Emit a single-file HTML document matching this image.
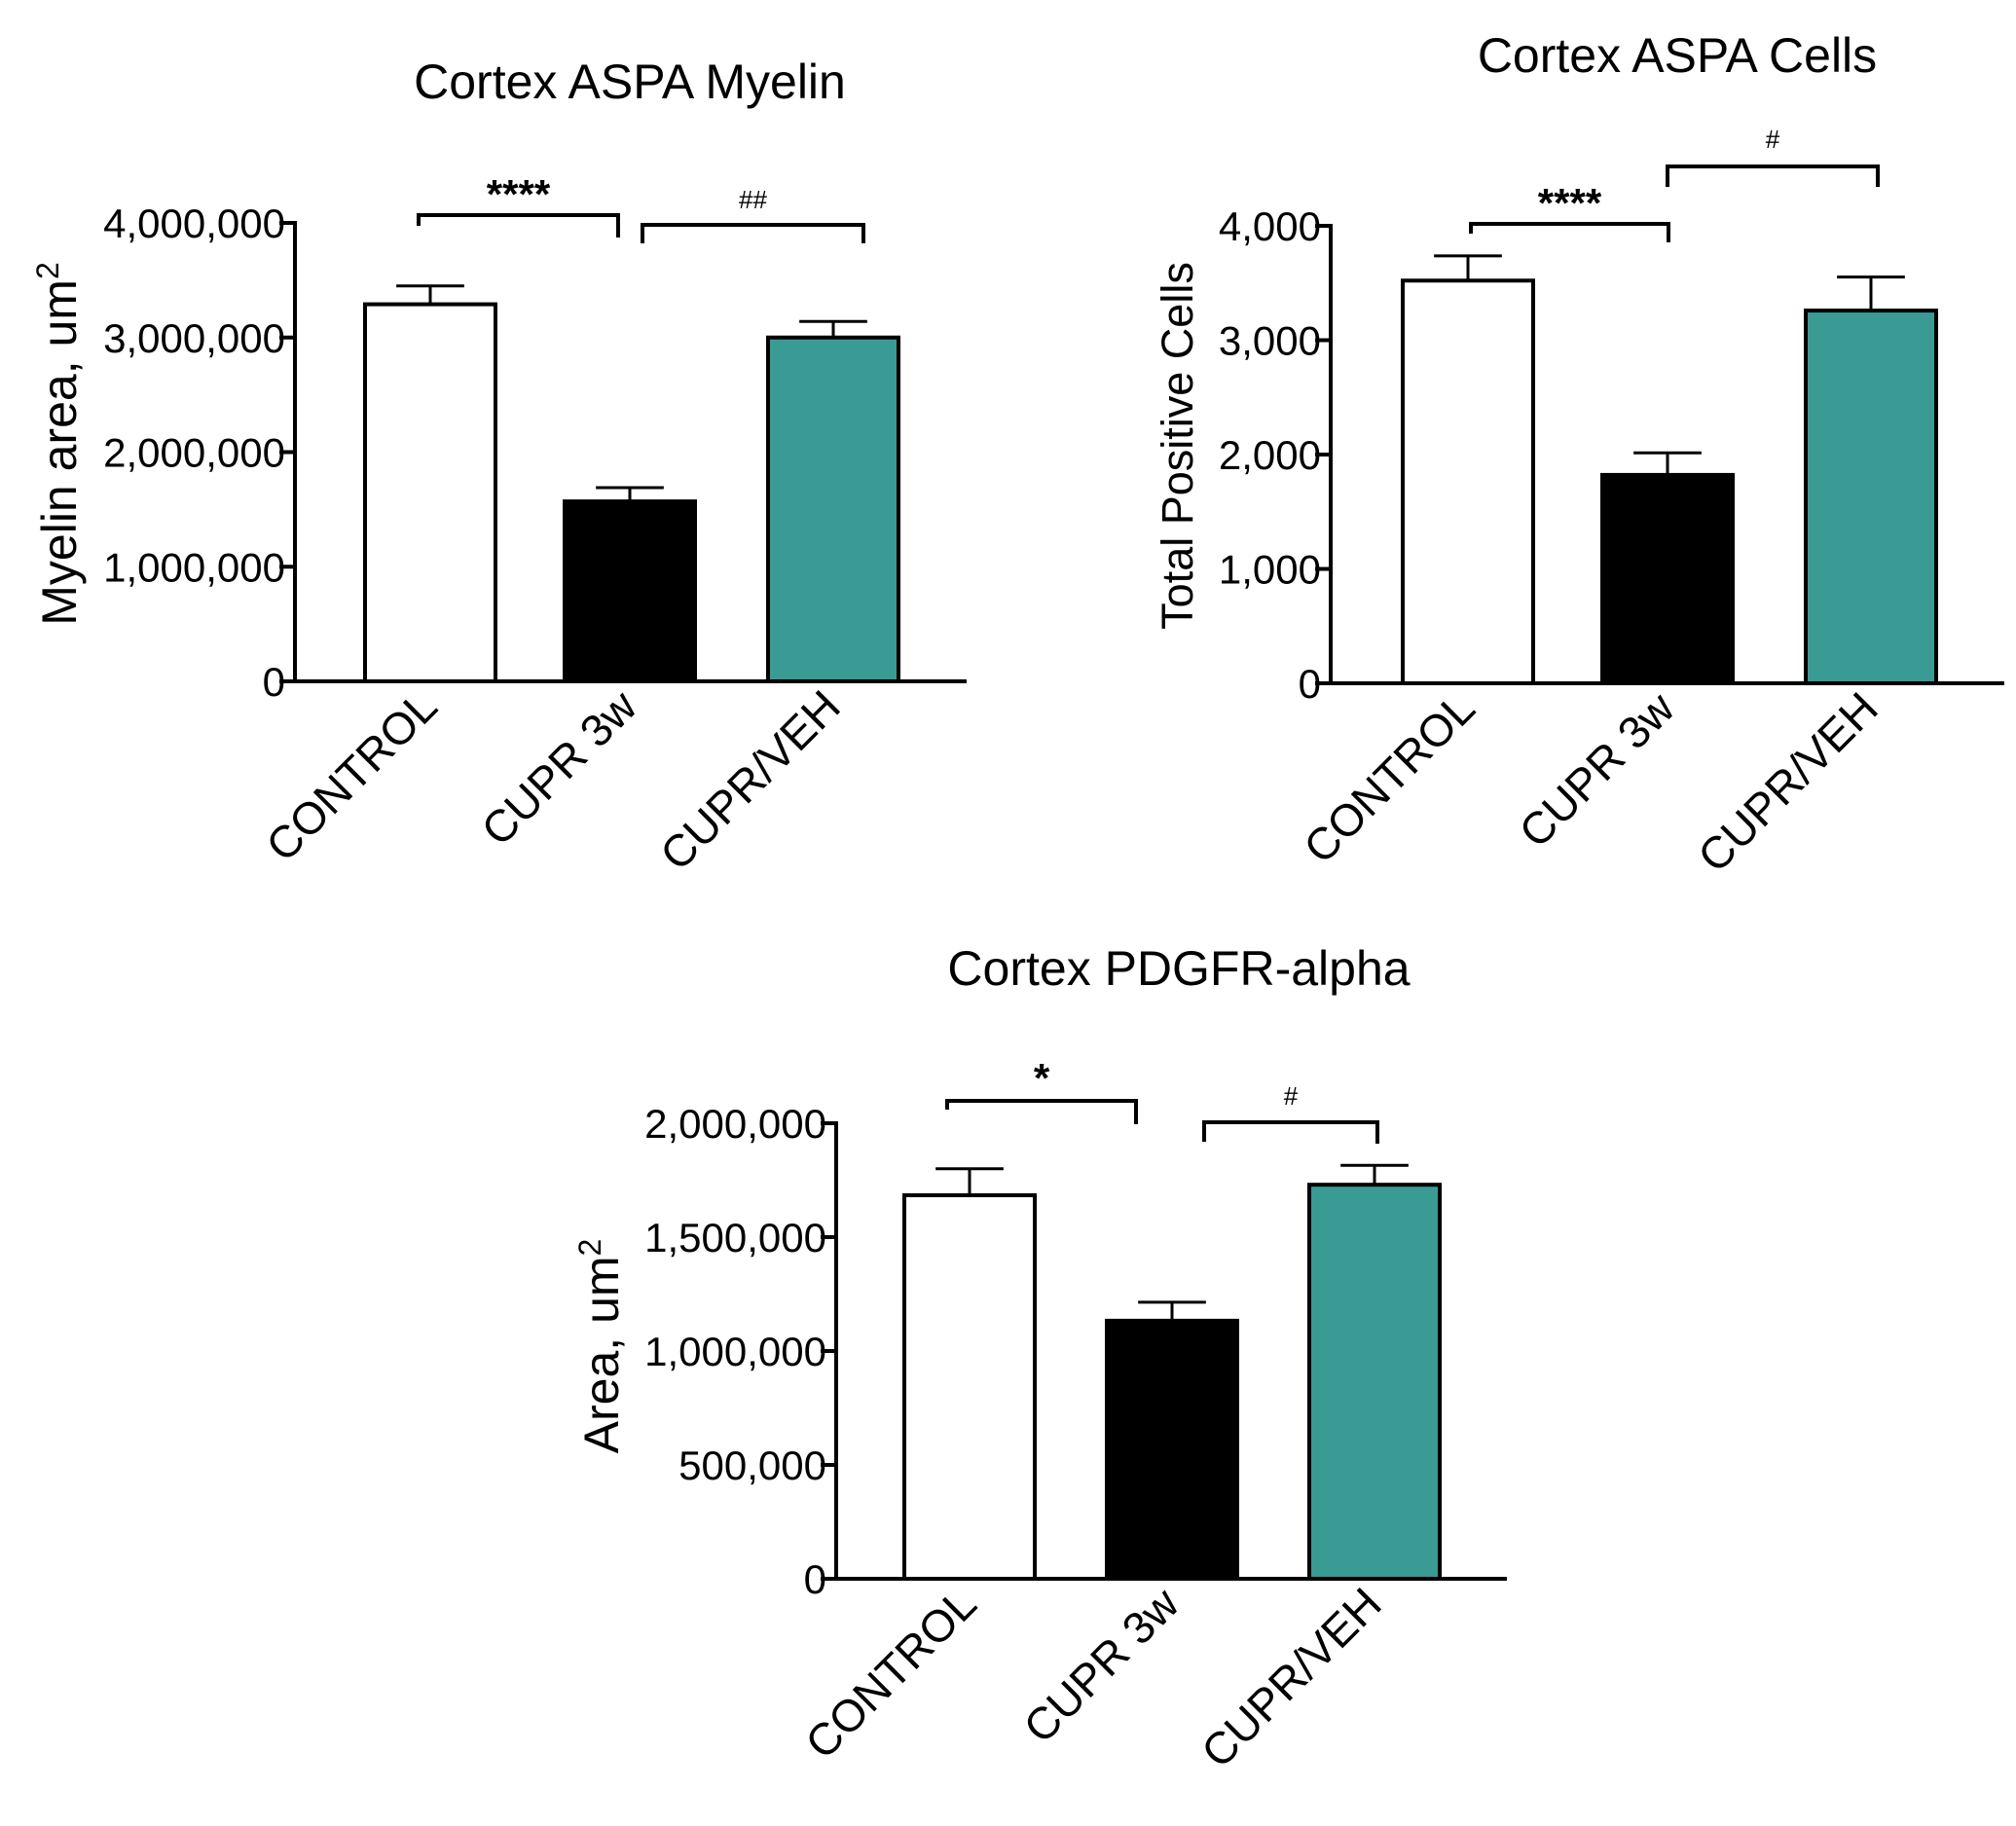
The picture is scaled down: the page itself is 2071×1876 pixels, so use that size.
<!DOCTYPE html>
<html><head><meta charset="utf-8"><style>
html,body{margin:0;padding:0;background:#fff}
svg{display:block;font-family:"Liberation Sans",Arial,sans-serif}
</style></head><body>
<svg id="fig" width="2071" height="1876" viewBox="0 0 2071 1876" xmlns="http://www.w3.org/2000/svg"></svg>
<script>
const categories = ["CONTROL", "CUPR 3w", "CUPR/VEH"];
const fills = ["#ffffff", "#000000", "#3a9a94"];
const myelinValues = [3290000, 1570000, 3000000];
const myelinErrors = [160000, 120000, 140000];
const myelinTicks = [0, 1000000, 2000000, 3000000, 4000000];
const myelinTickLabels = ["0", "1,000,000", "2,000,000", "3,000,000", "4,000,000"];
const cellsValues = [3521, 1822, 3259];
const cellsErrors = [216, 193, 293];
const cellsTicks = [0, 1000, 2000, 3000, 4000];
const cellsTickLabels = ["0", "1,000", "2,000", "3,000", "4,000"];
const pdgfValues = [1684000, 1133000, 1730000];
const pdgfErrors = [116000, 81000, 85000];
const pdgfTicks = [0, 500000, 1000000, 1500000, 2000000];
const pdgfTickLabels = ["0", "500,000", "1,000,000", "1,500,000", "2,000,000"];

const NS = "http://www.w3.org/2000/svg";
const svg = document.getElementById('fig');
function mk(tag, attrs, parent, name) {
  const e = document.createElementNS(NS, tag);
  for (const k in attrs) e.setAttribute(k, attrs[k]);
  
  
  (parent || svg).appendChild(e);
  return e;
}
function chart(o) {
  const g = mk('g', {}, svg, o.name);
  const yScale = v => o.y0 - (v / o.max) * (o.y0 - o.yTop);
  const t = mk('text', {x: o.titleX, y: o.titleY, 'font-size': 50, 'text-anchor': 'middle'}, g, 'chart-title');
  t.textContent = o.title;
  const yt = mk('text', {x: 0, y: 0, 'font-size': o.ytSize, 'text-anchor': 'middle',
    transform: `translate(${o.ytX},${o.ytY}) rotate(-90)`}, g, 'y-axis-title');
  yt.innerHTML = o.ytHtml;
  categories.forEach((c, i) => {
    const x1 = o.barX[i], w = o.barW;
    const top = yScale(o.values[i]);
    const et = yScale(o.values[i] + o.errors[i]);
    const cx = x1 + w / 2;
    mk('line', {x1: cx, y1: top, x2: cx, y2: et, stroke: '#000', 'stroke-width': 3}, g, 'error-bar-' + i);
    mk('line', {x1: cx - w * 0.26, y1: et, x2: cx + w * 0.26, y2: et, stroke: '#000', 'stroke-width': 3}, g, 'error-cap-' + i);
    mk('rect', {x: x1, y: top, width: w, height: o.y0 - top, fill: fills[i], stroke: '#000', 'stroke-width': 4}, g, 'bar-' + i);
    const lx = cx - 14, ly = o.y0 + 5;
    const lab = mk('text', {x: lx, y: ly, 'font-size': 46, 'text-anchor': 'end',
      transform: `rotate(-45 ${lx} ${ly})`, 'dominant-baseline': 'hanging'}, g, 'x-tick-label');
    lab.textContent = c;
  });
  mk('line', {x1: o.ax, y1: o.yTop - 2, x2: o.ax, y2: o.y0 + 2, stroke: '#000', 'stroke-width': 4}, g, 'y-axis');
  mk('line', {x1: o.ax - 16, y1: o.y0, x2: o.xEnd, y2: o.y0, stroke: '#000', 'stroke-width': 4}, g, 'x-axis');
  o.ticks.forEach((v, i) => {
    const y = yScale(v);
    mk('line', {x1: o.ax - 16, y1: y, x2: o.ax, y2: y, stroke: '#000', 'stroke-width': 4}, g, 'y-tick');
    const tl = mk('text', {x: o.ax - 10, y: y + 15, 'font-size': 42, 'text-anchor': 'end'}, g, 'y-tick-label');
    tl.textContent = o.tickLabels[i];
  });
  o.brackets.forEach(b => {
    mk('path', {d: `M${b.x1},${b.l} L${b.x1},${b.y} L${b.x2},${b.y} L${b.x2},${b.r}`, fill: 'none', stroke: '#000', 'stroke-width': 4}, g, 'significance-bracket');
    const st = mk('text', {x: (b.x1 + b.x2) / 2, y: b.ty, 'font-size': b.fs, 'font-weight': b.bold ? 'bold' : 'normal', 'text-anchor': 'middle'}, g, 'significance-label');
    st.textContent = b.label;
  });
}
chart({name: 'chart-myelin', title: 'Cortex ASPA Myelin', titleX: 647, titleY: 101,
  ytHtml: 'Myelin area, um<tspan baseline-shift="super" font-size="32">2</tspan>', ytSize: 50, ytX: 78, ytY: 456,
  y0: 700, yTop: 229, max: 4000000, ax: 303, xEnd: 993, barX: [375, 580, 789], barW: 134,
  values: myelinValues, errors: myelinErrors, ticks: myelinTicks, tickLabels: myelinTickLabels,
  brackets: [{x1: 430, x2: 635, y: 221, l: 232, r: 244, label: '****', ty: 214, fs: 42, bold: true},
             {x1: 660, x2: 887, y: 231, l: 250, r: 250, label: '##', ty: 214, fs: 26, bold: false}]});
chart({name: 'chart-cells', title: 'Cortex ASPA Cells', titleX: 1723, titleY: 74,
  ytHtml: 'Total Positive Cells', ytSize: 45, ytX: 1225, ytY: 458,
  y0: 702, yTop: 232, max: 4000, ax: 1367, xEnd: 2059, barX: [1441, 1646, 1855], barW: 134,
  values: cellsValues, errors: cellsErrors, ticks: cellsTicks, tickLabels: cellsTickLabels,
  brackets: [{x1: 1511, x2: 1714, y: 230, l: 240, r: 249, label: '****', ty: 223, fs: 42, bold: true},
             {x1: 1713, x2: 1929, y: 171, l: 192, r: 192, label: '#', ty: 152, fs: 26, bold: false}]});
chart({name: 'chart-pdgfr', title: 'Cortex PDGFR-alpha', titleX: 1211, titleY: 1012,
  ytHtml: 'Area, um<tspan baseline-shift="super" font-size="32">2</tspan>', ytSize: 50, ytX: 635, ytY: 1383,
  y0: 1622, yTop: 1154, max: 2000000, ax: 859, xEnd: 1548, barX: [929, 1137, 1345], barW: 134,
  values: pdgfValues, errors: pdgfErrors, ticks: pdgfTicks, tickLabels: pdgfTickLabels,
  brackets: [{x1: 973, x2: 1167, y: 1131, l: 1140, r: 1155, label: '*', ty: 1122, fs: 42, bold: true},
             {x1: 1237, x2: 1415, y: 1153, l: 1173, r: 1175, label: '#', ty: 1135, fs: 26, bold: false}]});
</script>
</body></html>
